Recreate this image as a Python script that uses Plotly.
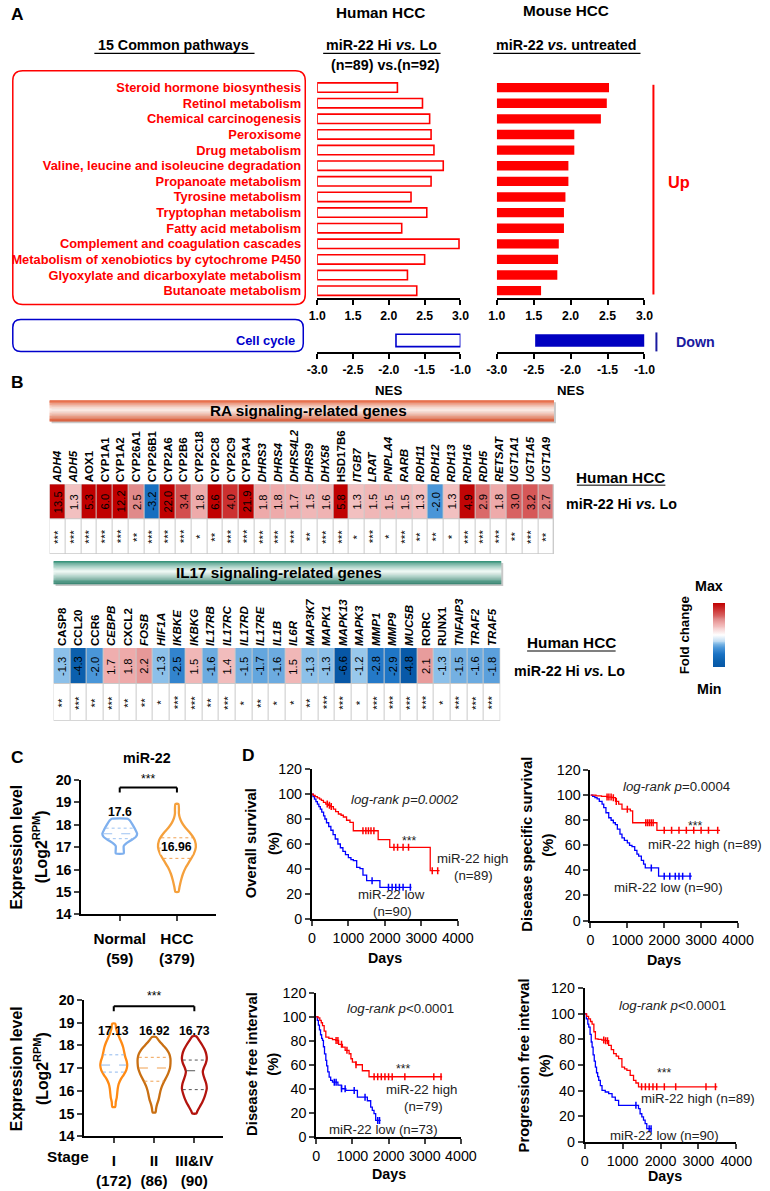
import numpy as np
import plotly.graph_objects as go

W, H = 770, 1191
FONT = "Liberation Sans, Arial, Helvetica, sans-serif"
# placement calibration of the rendered page (offset / scale observed in the photograph)
OX, SX = 9.2, 0.970
OY, SY = 6.1, 0.988
FS = 1.02


def tx(x):
    return (x - OX) / SX


def ty(y):
    return (y - OY) / SY


def PX(x):
    return tx(x) / W


def PY(y):
    return 1 - ty(y) / H


def DX(a, b):
    return [max(0.0, PX(a)), min(1.0, PX(b))]


def DY(top, bottom):
    return [max(0.0, PY(bottom)), min(1.0, PY(top))]


def F(s):
    return s * FS


# ---------------- Panel A: GSEA NES ----------------
pathways = ["Steroid hormone biosynthesis", "Retinol metabolism", "Chemical carcinogenesis",
            "Peroxisome", "Drug metabolism", "Valine, leucine and isoleucine degradation",
            "Propanoate metabolism", "Tyrosine metabolism", "Tryptophan metabolism",
            "Fatty acid metabolism", "Complement and coagulation cascades",
            "Metabolism of xenobiotics by cytochrome P450",
            "Glyoxylate and dicarboxylate metabolism", "Butanoate metabolism"]
human_nes_up = [2.12, 2.47, 2.57, 2.59, 2.63, 2.76, 2.59, 2.31, 2.53, 2.18, 2.98, 2.50, 2.26, 2.39]
mouse_nes_up = [2.52, 2.49, 2.41, 2.05, 2.05, 1.97, 1.97, 1.93, 1.91, 1.91, 1.84, 1.83, 1.82, 1.60]
down_pathways = ["Cell cycle"]
human_nes_down = [-1.90]
mouse_nes_down = [-2.48]
nes_ticks_up = [1.0, 1.5, 2.0, 2.5, 3.0]
nes_ticks_down = [-3.0, -2.5, -2.0, -1.5, -1.0]

# ---------------- Panel B: heatmaps ----------------
ra_genes = ["ADH4", "ADH5", "AOX1", "CYP1A1", "CYP1A2", "CYP26A1", "CYP26B1", "CYP2A6", "CYP2B6",
            "CYP2C18", "CYP2C8", "CYP2C9", "CYP3A4", "DHRS3", "DHRS4", "DHRS4L2", "DHRS9", "DHX58",
            "HSD17B6", "ITGB7", "LRAT", "PNPLA4", "RARB", "RDH11", "RDH12", "RDH13", "RDH16", "RDH5",
            "RETSAT", "UGT1A1", "UGT1A5", "UGT1A9"]
ra_fc = [13.5, 1.3, 5.3, 6.0, 12.2, 2.5, -3.2, 22.0, 3.4, 1.8, 6.6, 4.0, 21.9, 1.8, 1.8, 1.7, 1.5,
         1.6, 5.8, 1.3, 1.5, 1.5, 1.5, 1.3, -2.0, 1.3, 4.9, 2.9, 1.8, 3.0, 3.2, 2.7]
ra_sig = ["***", "***", "***", "***", "***", "**", "***", "***", "***", "*", "**", "***", "***",
          "***", "***", "***", "**", "***", "***", "*", "***", "*", "***", "**", "**", "*", "***",
          "***", "***", "**", "***", "**"]
ra_upright = ["AOX1", "CYP1A1", "CYP1A2", "CYP26A1", "CYP26B1", "CYP2A6", "CYP2B6", "CYP2C18",
              "CYP2C8", "CYP2C9", "CYP3A4", "HSD17B6"]

il17_genes = ["CASP8", "CCL20", "CCR6", "CEBPB", "CXCL2", "FOSB", "HIF1A", "IKBKE", "IKBKG",
              "IL17RB", "IL17RC", "IL17RD", "IL17RE", "IL1B", "IL6R", "MAP3K7", "MAPK1", "MAPK13",
              "MAPK3", "MMP1", "MMP9", "MUC5B", "RORC", "RUNX1", "TNFAIP3", "TRAF2", "TRAF5"]
il17_fc = [-1.3, -4.3, -2.0, 1.7, 1.8, 2.2, -1.3, -2.5, 1.5, -1.6, 1.4, -1.5, -1.7, -1.6, 1.5,
           -1.3, -1.3, -6.6, -1.2, -2.8, -2.9, -4.8, 2.1, -1.3, -1.5, -1.6, -1.8]
il17_sig = ["**", "***", "**", "***", "**", "**", "*", "***", "***", "**", "***", "*", "**", "*",
            "*", "**", "***", "***", "*", "***", "***", "***", "***", "*", "***", "***", "***"]
il17_upright = ["CASP8", "CCL20", "CCR6", "CXCL2", "RORC", "RUNX1"]

FC_SCALE = [[0.0, "#0757a6"], [0.1, "#0c62b0"], [0.2, "#1a72c4"], [0.3, "#4a96d8"],
            [0.35, "#74b0e2"], [0.38, "#98c8ec"], [0.4, "#c0dcf2"], [0.5, "#ffffff"],
            [0.6, "#f6d2d2"], [0.63, "#f2c0c0"], [0.68, "#eeaaaa"], [0.75, "#e08a8a"],
            [0.8, "#d86262"], [0.9, "#cc3030"], [1.0, "#c00000"]]

# ---------------- Panel C: violins ----------------
tissue_labels = ["Normal<br>(59)", "HCC<br>(379)"]
tissue_medians = ["17.6", "16.96"]
normal_levels = [16.72, 16.9, 17.05, 17.15, 17.3, 17.45, 17.6, 17.8, 18.0, 18.2, 18.27]
normal_width = [4, 4, 4, 6, 11, 16, 17.5, 15.5, 13, 10, 8]
normal_quart = [17.38, 17.6, 17.85]
hcc_levels = [15.0, 15.2, 15.5, 15.8, 16.1, 16.4, 16.7, 17.0, 17.3, 17.5, 17.7, 17.9, 18.1, 18.3,
              18.5, 18.7, 18.93]
hcc_width = [1.5, 2.5, 4, 6, 9, 13, 17, 19, 18, 15.5, 12, 8, 5, 3, 2, 2, 1.5]
hcc_quart = [16.5, 16.96, 17.42]

stage_labels = ["I<br>(172)", "II<br>(86)", "III&amp;IV<br>(90)"]
stage_medians = ["17.13", "16.92", "16.73"]
st1_levels = [15.29, 15.5, 15.7, 15.9, 16.1, 16.3, 16.5, 16.7, 16.9, 17.1, 17.3, 17.5, 17.7, 17.9,
              18.1, 18.3, 18.5, 18.7, 18.95]
st1_width = [1.5, 2, 3, 3.5, 4, 5, 7, 10, 12.5, 13.5, 13, 11.5, 10.5, 9.5, 8, 6, 4, 2.5, 1.5]
st1_quart = [16.82, 17.13, 17.58]
st2_levels = [15.05, 15.2, 15.4, 15.6, 15.8, 16.0, 16.2, 16.4, 16.6, 16.8, 17.0, 17.2, 17.4, 17.6,
              17.8, 18.0, 18.2, 18.36]
st2_width = [1.5, 2, 3, 4.5, 5.5, 6.5, 8, 10, 12.5, 14.5, 16, 16.5, 16.5, 15.5, 13, 9, 5, 2]
st2_quart = [16.42, 17.0, 17.47]
st3_levels = [15.0, 15.1, 15.3, 15.5, 15.7, 15.9, 16.1, 16.3, 16.5, 16.7, 16.85, 17.0, 17.2, 17.4,
              17.6, 17.8, 18.0, 18.2, 18.39]
st3_width = [2, 3, 5.5, 8, 10, 11.5, 12.5, 12, 10.5, 9, 8.5, 9.5, 11.5, 12.5, 12, 10.5, 8, 5, 2]
st3_quart = [16.05, 16.88, 17.35]

# ---------------- Panel D: Kaplan-Meier ----------------
os_hi_days = [0, 40, 90, 150, 210, 260, 316, 380, 450, 520, 589, 650, 726, 800, 862, 950, 1044,
              1135, 1817, 2135, 3245, 3500]
os_hi_surv = [100, 99, 98, 97, 96, 95, 93.3, 92, 91, 90, 88, 86, 84, 83, 81.6, 79, 77.3, 70.6,
              63.5, 57.3, 38.6, 38.6]
os_hi_cens = [420, 480, 530, 1400, 1480, 1550, 1620, 1700, 2250, 2350, 2500, 2650, 3300, 3450]
os_lo_days = [0, 30, 70, 110, 150, 190, 230, 270, 320, 356, 400, 460, 520, 580, 640, 712, 780,
              850, 920, 1000, 1070, 1137, 1228, 1318, 1400, 1501, 1865, 2730]
os_lo_surv = [100, 98, 96, 94, 92, 90, 88, 85.5, 82.5, 80, 77, 74, 71, 67.5, 64, 60, 57, 54, 51.5,
              49, 47.5, 46.6, 41.3, 40.3, 35, 30.6, 25.3, 25.3]
os_lo_cens = [1650, 2100, 2200, 2300, 2400, 2500, 2700]

dss_hi_days = [0, 150, 300, 450, 584, 680, 765, 855, 1081, 1144, 1802, 3514]
dss_hi_surv = [100, 99.5, 99, 98.5, 98, 95, 92.8, 88.8, 87.4, 78, 72, 72]
dss_hi_cens = [450, 500, 560, 620, 700, 1000, 1500, 1550, 1600, 1650, 1700, 2000, 2200, 2400,
               2600, 2800, 3000, 3200, 3450]
dss_lo_days = [0, 60, 120, 180, 240, 315, 360, 420, 495, 560, 620, 676, 730, 800, 855, 920, 1000,
               1060, 1126, 1200, 1260, 1306, 1380, 1440, 1486, 1847, 2748]
dss_lo_surv = [100, 99, 98, 97, 95, 92.8, 90, 86, 82, 80, 78, 76.5, 73, 69, 66, 64, 62, 60, 59,
               56, 53, 51.4, 48, 45, 42, 35.4, 35.4]
dss_lo_cens = [1650, 2000, 2150, 2300, 2400, 2500, 2700]

dfi_hi_days = [0, 50, 100, 140, 174, 220, 266, 350, 450, 541, 620, 725, 800, 909, 960, 1001,
               1100, 1276, 1460, 3480]
dfi_hi_surv = [100, 99, 97, 95, 92.7, 88, 83, 82, 81, 80.3, 77, 74.7, 72, 69.2, 65, 62.2, 60, 55,
               50, 50]
dfi_hi_cens = [550, 600, 700, 850, 1100, 1600, 1700, 1800, 1900, 2000, 2100, 2450, 3250, 3450]
dfi_lo_days = [0, 30, 60, 90, 120, 150, 174, 200, 230, 266, 290, 320, 358, 400, 450, 600, 700,
               817, 1139, 1414, 1506, 1550, 1598, 1644, 1781]
dfi_lo_surv = [100, 97, 93, 89, 85, 82, 80.3, 75, 69, 63.6, 59, 54, 49.7, 47, 45.5, 43, 40, 38.6,
               33, 30, 24.7, 22, 19.2, 13.6, 13.6]
dfi_lo_cens = [500, 550, 700, 800, 1050, 1350, 1700, 1750]

pfi_hi_days = [0, 50, 100, 150, 193, 240, 280, 350, 450, 543, 630, 700, 761, 830, 893, 980, 1050,
               1112, 1199, 1287, 1350, 1418, 3500]
pfi_hi_surv = [100, 98, 96, 94, 92, 86, 80.5, 80, 79.5, 79, 75.3, 72, 68.9, 67, 65, 58.4, 57,
               55.9, 52, 48.1, 46, 43, 43]
pfi_hi_cens = [500, 550, 600, 1500, 1600, 1700, 1800, 1900, 2100, 2400, 3200, 3450]
pfi_lo_days = [0, 40, 80, 105, 140, 170, 193, 220, 250, 280, 310, 340, 368, 410, 455, 540, 630,
               720, 806, 893, 1418, 1460, 1506, 1550, 1593, 1637, 1768]
pfi_lo_surv = [100, 96, 92, 89.6, 84, 78, 74, 68, 63, 58.4, 54, 51, 48, 44, 40.3, 39, 37.7, 35,
               32.5, 28.6, 26, 22, 19.5, 17, 14.3, 10.4, 10.4]
pfi_lo_cens = [1350, 1700, 1750]

km_yticks = [0, 20, 40, 60, 80, 100, 120]
km_xticks = [0, 1000, 2000, 3000, 4000]

RED = "#ff0000"
BLUE = "#0000ff"

fig = go.Figure()
annotations = []
shapes = []


def txt(text, x, y, size=12, color="black", xanchor="center", yanchor="middle", angle=0,
        bg=None, xref="paper", yref="paper"):
    if xref == "paper":
        x = PX(x)
    if yref == "paper":
        y = PY(y)
    d = dict(text=text, x=x, y=y, xref=xref, yref=yref, showarrow=False,
             font=dict(size=F(size), color=color, family=FONT), xanchor=xanchor,
             yanchor=yanchor, textangle=angle)
    if bg:
        d["bgcolor"] = bg
        d["borderpad"] = 0
    annotations.append(d)


def hline(x0, x1, y, color="black", width=1.5):
    shapes.append(dict(type="line", xref="paper", yref="paper", x0=PX(x0), x1=PX(x1),
                       y0=PY(y), y1=PY(y), line=dict(color=color, width=width)))


def vline(x, y0, y1, color="black", width=1.5):
    shapes.append(dict(type="line", xref="paper", yref="paper", x0=PX(x), x1=PX(x),
                       y0=PY(y0), y1=PY(y1), line=dict(color=color, width=width)))


def rounded_rect(x0, y0, x1, y1, r, color, width=1.5):
    pts = [("M", [(x0 + r, y0)]), ("L", [(x1 - r, y0)]), ("Q", [(x1, y0), (x1, y0 + r)]),
           ("L", [(x1, y1 - r)]), ("Q", [(x1, y1), (x1 - r, y1)]), ("L", [(x0 + r, y1)]),
           ("Q", [(x0, y1), (x0, y1 - r)]), ("L", [(x0, y0 + r)]), ("Q", [(x0, y0), (x0 + r, y0)])]
    path = ""
    for cmd, ps in pts:
        path += cmd + " " + " ".join("%.5f,%.5f" % (PX(a), PY(b)) for a, b in ps) + " "
    path += "Z"
    shapes.append(dict(type="path", xref="paper", yref="paper", path=path,
                       line=dict(color=color, width=width)))


def mix(c1, c2, f):
    a = [int(c1[i:i + 2], 16) for i in (1, 3, 5)]
    b = [int(c2[i:i + 2], 16) for i in (1, 3, 5)]
    return "rgb(%d,%d,%d)" % tuple(round(a[k] + (b[k] - a[k]) * f) for k in range(3))


def banner(x0, x1, y0, y1, edge_top, edge_bot, mid, n=28):
    shapes.append(dict(type="rect", xref="paper", yref="paper", x0=PX(x0 + 2), x1=PX(x1 + 2),
                       y0=PY(y1 + 2), y1=PY(y0 + 2), fillcolor="#c8c8c8", line=dict(width=0)))
    for i in range(n):
        p = (i + 0.5) / n
        if p < 0.45:
            f = ((0.45 - p) / 0.45) ** 1.3
            col = mix(mid, edge_top, f)
        else:
            f = ((p - 0.45) / 0.55) ** 1.3
            col = mix(mid, edge_bot, f)
        ya = y0 + (y1 - y0) * i / n
        yb = y0 + (y1 - y0) * (i + 1) / n + 0.3
        shapes.append(dict(type="rect", xref="paper", yref="paper", x0=PX(x0), x1=PX(x1),
                           y0=PY(yb), y1=PY(ya), fillcolor=col, line=dict(width=0)))


# ======================= PANEL A =======================
bar_axis = dict(showline=True, linecolor="black", linewidth=2, ticks="outside", ticklen=5,
                tickwidth=2, tickcolor="black", showgrid=False, zeroline=False,
                tickfont=dict(size=F(12), family=FONT, color="black"), fixedrange=True)

fig.add_trace(go.Bar(y=pathways, x=[v - 1 for v in human_nes_up], base=1, orientation="h",
                     width=0.6, marker=dict(color="white", line=dict(color=RED, width=1.6)),
                     xaxis="x", yaxis="y", hoverinfo="skip"))
fig.add_trace(go.Bar(y=pathways, x=[v - 1 for v in mouse_nes_up], base=1, orientation="h",
                     width=0.6, marker=dict(color=RED, line=dict(color=RED, width=0)),
                     xaxis="x2", yaxis="y2", hoverinfo="skip"))
fig.add_trace(go.Bar(y=down_pathways, x=[v + 1 for v in human_nes_down], base=-1,
                     orientation="h", width=0.52,
                     marker=dict(color="white", line=dict(color="#0000cc", width=1.6)),
                     xaxis="x3", yaxis="y3", hoverinfo="skip"))
fig.add_trace(go.Bar(y=down_pathways, x=[v + 1 for v in mouse_nes_down], base=-1,
                     orientation="h", width=0.52, marker=dict(color="#0000c0", line=dict(width=0)),
                     xaxis="x4", yaxis="y4", hoverinfo="skip"))

up_lbl = ["%.1f" % v for v in nes_ticks_up]
dn_lbl = ["%.1f" % v for v in nes_ticks_down]
layout_axes = {}
layout_axes["xaxis"] = dict(bar_axis, domain=DX(317, 461), range=[1, 3], tickvals=nes_ticks_up,
                            ticktext=["<b>%s</b>" % t for t in up_lbl], anchor="y")
layout_axes["yaxis"] = dict(domain=DY(78, 297), range=[13.5, -0.5], anchor="x", showline=False,
                            ticks="", showgrid=False, zeroline=False, ticklabelstandoff=15,
                            tickvals=pathways, ticktext=["<b>%s</b>" % p for p in pathways],
                            tickfont=dict(size=F(12.6), family=FONT, color=RED), fixedrange=True)
layout_axes["xaxis2"] = dict(bar_axis, domain=DX(497.5, 646), range=[1, 3], tickvals=nes_ticks_up,
                             ticktext=["<b>%s</b>" % t for t in up_lbl], anchor="y2")
layout_axes["yaxis2"] = dict(domain=DY(78, 297), range=[13.5, -0.5], anchor="x2", visible=False,
                             tickvals=pathways, fixedrange=True)
layout_axes["xaxis3"] = dict(bar_axis, domain=DX(317, 461), range=[-3, -1], tickvals=nes_ticks_down,
                             ticktext=["<b>%s</b>" % t for t in dn_lbl], anchor="y3")
layout_axes["yaxis3"] = dict(domain=DY(327, 351), range=[-0.5, 0.5], anchor="x3", showline=False,
                             ticks="", showgrid=False, zeroline=False, ticklabelstandoff=21,
                             tickvals=down_pathways,
                             ticktext=["<b>%s</b>" % p for p in down_pathways],
                             tickfont=dict(size=F(12.6), family=FONT, color="#0000cc"),
                             fixedrange=True)
layout_axes["xaxis4"] = dict(bar_axis, domain=DX(497.5, 646), range=[-3, -1],
                             tickvals=nes_ticks_down,
                             ticktext=["<b>%s</b>" % t for t in dn_lbl], anchor="y4")
layout_axes["yaxis4"] = dict(domain=DY(327, 351), range=[-0.5, 0.5], anchor="x4", visible=False,
                             tickvals=down_pathways, fixedrange=True)

txt("<b>A</b>", 16, 12, size=17)
txt("<b>Human HCC</b>", 381, 11, size=15)
txt("<b>Mouse HCC</b>", 567, 9, size=15)
txt("<b>15 Common pathways</b>", 173, 43, size=14)
hline(93, 254, 51.5, width=1.2)
txt("<b>miR-22 Hi <i>vs.</i> Lo</b>", 382, 43, size=14)
hline(323, 441, 51.5, width=1.2)
txt("<b>(n=89) vs.(n=92)</b>", 386, 63, size=14)
txt("<b>miR-22 <i>vs.</i> untreated</b>", 567, 43, size=14)
hline(494, 642, 51.5, width=1.2)
rounded_rect(11, 69, 305, 303, 10, RED, width=1.5)
rounded_rect(11, 318, 303, 350, 8, "#0000cc", width=1.5)
vline(655, 83, 293, color=RED, width=2)
txt("<b>Up</b>", 681, 180, size=16, color=RED)
vline(658, 331, 350, color="#1a1aa0", width=2)
txt("<b>Down</b>", 697, 341, size=14, color="#1a1aa0")
txt("<b>NES</b>", 389, 389, size=13)
txt("<b>NES</b>", 572, 389, size=13)

# ======================= PANEL B =======================
txt("<b>B</b>", 16, 381, size=17)
banner(48, 555, 399, 420, "#e2572f", "#d84a22", "#fdeee8")
txt("<b>RA signaling-related genes</b>", 308, 409.5, size=15)
banner(52, 502, 560, 583, "#2f8f76", "#1f7a62", "#eef8f4")
txt("<b>IL17 signaling-related genes</b>", 279, 571.5, size=15)


def clipfc(v):
    return max(-5.0, min(5.0, v))


def gene_label(g, upright):
    return "<b>%s</b>" % g if g in upright else "<b><i>%s</i></b>" % g


def add_heatmap(genes, fc, sig, upright, xa, ya, xdom, ydom, showscale):
    z = [[0.0] * len(genes), [clipfc(v) for v in fc]]
    hm = go.Heatmap(x=genes, y=[0, 1], z=z, colorscale=FC_SCALE, zmin=-5, zmax=5, xgap=1, ygap=1,
                    showscale=showscale, xaxis=xa, yaxis=ya, hoverinfo="skip")
    if showscale:
        hm.colorbar = dict(x=PX(705), xanchor="left", y=PY(634), yanchor="middle",
                           len=(84 / SY) / H, lenmode="fraction", thickness=12 / SX,
                           showticklabels=False, ticks="", outlinewidth=0)
    fig.add_trace(hm)
    shapes.append(dict(type="rect", xref="paper", yref="paper", x0=PX(xdom[0]), x1=PX(xdom[1]),
                       y0=PY(ydom[1]), y1=PY(ydom[0]), fillcolor="#c9c9c9",
                       line=dict(width=0), layer="below"))
    n = xa[1:]
    layout_axes["xaxis" + n] = dict(domain=DX(*xdom), side="top", anchor=ya, tickangle=-90,
                                    tickvals=genes,
                                    ticktext=[gene_label(g, upright) for g in genes],
                                    tickfont=dict(size=F(11.3), family=FONT, color="black"),
                                    ticks="", showgrid=False, zeroline=False, showline=False,
                                    ticklabelstandoff=1, range=[-0.5, len(genes) - 0.5],
                                    fixedrange=True)
    layout_axes["yaxis" + n] = dict(domain=DY(*ydom), range=[-0.5, 1.5], anchor=xa, visible=False,
                                    fixedrange=True)
    for g, v, s in zip(genes, fc, sig):
        txt("%.1f" % v, g, 1, size=11, angle=-90, xref=xa, yref=ya)
        txt(s, g, 0, size=11.5, angle=-90, xref=xa, yref=ya)


add_heatmap(ra_genes, ra_fc, ra_sig, ra_upright, "x5", "y5", (48, 555), (483, 553), False)
add_heatmap(il17_genes, il17_fc, il17_sig, il17_upright, "x6", "y6", (52, 501), (647, 720), True)

txt("<b>Human HCC</b>", 622, 476, size=15)
hline(578, 667, 484, color="#555", width=1.5)
txt("<b>miR-22 Hi <i>vs.</i> Lo</b>", 623, 503, size=14)
txt("<b>Human HCC</b>", 573, 642, size=15)
hline(528, 617, 650, color="#555", width=1.5)
txt("<b>miR-22 Hi <i>vs.</i> Lo</b>", 571, 670, size=14)
txt("<b>Max</b>", 711, 585, size=14)
txt("<b>Min</b>", 711, 688, size=14)
txt("<b>Fold change</b>", 687, 634, size=13, angle=-90)

# ======================= PANEL C =======================
txt("<b>C</b>", 16, 756, size=17)
txt("<b>miR-22</b>", 146, 757, size=14)


def violin(center, levels, widths, scale, color, xa, ya, quart, qcolor):
    lv = np.array(levels, dtype=float)
    w = np.array(widths, dtype=float) / scale
    xs = np.concatenate([center + w, (center - w)[::-1], [center + w[0]]])
    ys = np.concatenate([lv, lv[::-1], [lv[0]]])
    fig.add_trace(go.Scatter(x=xs, y=ys, mode="lines", fill="toself", fillcolor="white",
                             line=dict(color=color, width=2.3, shape="spline", smoothing=0.6),
                             xaxis=xa, yaxis=ya, hoverinfo="skip"))
    for k, q in enumerate(quart):
        hw = np.interp(q, lv, w) * 0.95
        fig.add_trace(go.Scatter(x=[center - hw, center + hw], y=[q, q], mode="lines",
                                 line=dict(color=qcolor, width=1,
                                           dash="dash" if k == 1 else "dot"),
                                 xaxis=xa, yaxis=ya, hoverinfo="skip"))


vio_y = dict(range=[14, 20], dtick=1, showline=True, linecolor="black", linewidth=2,
             ticks="outside", ticklen=5, tickwidth=2, showgrid=False, zeroline=False,
             tickfont=dict(size=F(14), family=FONT, color="black"), tickprefix="<b>",
             ticksuffix="</b>", fixedrange=True)
vio_x = dict(showline=True, linecolor="black", linewidth=2, ticks="outside", ticklen=5,
             tickwidth=2, showgrid=False, zeroline=False,
             tickfont=dict(size=F(15), family=FONT, color="black"), fixedrange=True,
             ticklabelstandoff=4)

violin(0, normal_levels, normal_width, 57.5, "#7fb0ee", "x7", "y7", normal_quart, "#9cc2f2")
violin(1, hcc_levels, hcc_width, 57.5, "#f5a03c", "x7", "y7", hcc_quart, "#f0a050")
layout_axes["xaxis7"] = dict(vio_x, domain=DX(80, 215), range=[(80 - 118.5) / 57.5,
                                                              (215 - 118.5) / 57.5],
                             tickvals=[0, 1], ticktext=["<b>%s</b>" % t for t in tissue_labels],
                             anchor="y7")
layout_axes["yaxis7"] = dict(vio_y, domain=DY(779.3, 913.7), anchor="x7")
txt("<b>%s</b>" % tissue_medians[0], 0, 18.57, size=12, xref="x7", yref="y7")
txt("<b>%s</b>" % tissue_medians[1], 1, 17.0, size=12, xref="x7", yref="y7",
    bg="rgba(255,255,255,0.9)")
shapes.append(dict(type="line", xref="x7", yref="y7", x0=0, x1=1, y0=19.67, y1=19.67,
                   line=dict(color="black", width=2)))
for xx in (0, 1):
    shapes.append(dict(type="line", xref="x7", yref="y7", x0=xx, x1=xx, y0=19.67, y1=19.45,
                       line=dict(color="black", width=2)))
txt("***", 147, 778, size=12)
txt("<b>Expression level</b>", 15, 846, size=15.5, angle=-90)
txt("<b>(Log2<sup>RPM</sup>)</b>", 38, 846, size=15.5, angle=-90)

violin(0, st1_levels, st1_width, 40.5, "#ff8a14", "x8", "y8", st1_quart, "#8fb8ee")
violin(1, st2_levels, st2_width, 40.5, "#c96f12", "x8", "y8", st2_quart, "#f0a050")
violin(2, st3_levels, st3_width, 40.5, "#b3140e", "x8", "y8", st3_quart, "#555555")
layout_axes["xaxis8"] = dict(vio_x, domain=DX(83, 222), range=[(83 - 112.5) / 40.5,
                                                              (222 - 112.5) / 40.5],
                             tickvals=[0, 1, 2], ticktext=["<b>%s</b>" % t for t in stage_labels],
                             anchor="y8")
layout_axes["yaxis8"] = dict(vio_y, domain=DY(999.3, 1136), anchor="x8")
for i, m in enumerate(stage_medians):
    txt("<b>%s</b>" % m, i, 18.62, size=12, xref="x8", yref="y8")
shapes.append(dict(type="line", xref="x8", yref="y8", x0=0, x1=2, y0=19.72, y1=19.72,
                   line=dict(color="black", width=2)))
for xx in (0, 2):
    shapes.append(dict(type="line", xref="x8", yref="y8", x0=xx, x1=xx, y0=19.72, y1=19.5,
                       line=dict(color="black", width=2)))
txt("***", 153, 996, size=12)
txt("<b>Stage</b>", 67, 1156, size=15)
txt("<b>Expression level</b>", 15, 1068, size=15.5, angle=-90)
txt("<b>(Log2<sup>RPM</sup>)</b>", 40, 1068, size=15.5, angle=-90)

# ======================= PANEL D =======================
txt("<b>D</b>", 248, 754, size=17)


def km(days, surv, cens, color, xa, ya):
    fig.add_trace(go.Scatter(x=days, y=surv, mode="lines",
                             line=dict(color=color, width=1.3, shape="hv"),
                             xaxis=xa, yaxis=ya, hoverinfo="skip"))
    d = np.array(days)
    s = np.array(surv)
    cs = [s[np.searchsorted(d, c, side="right") - 1] for c in cens]
    fig.add_trace(go.Scatter(x=cens, y=cs, mode="markers",
                             marker=dict(symbol="line-ns", size=5,
                                         line=dict(color=color, width=1.5)),
                             xaxis=xa, yaxis=ya, hoverinfo="skip"))


km_axis_x = dict(range=[0, 4000], tickvals=km_xticks, showline=True, linecolor="black",
                 linewidth=2, ticks="outside", ticklen=5, tickwidth=2, showgrid=False,
                 zeroline=False, tickfont=dict(size=F(14), family=FONT, color="black"),
                 tickprefix="<b>", ticksuffix="</b>", fixedrange=True)
km_axis_y = dict(range=[0, 120], tickvals=km_yticks, showline=True, linecolor="black",
                 linewidth=2, ticks="outside", ticklen=5, tickwidth=2, showgrid=False,
                 zeroline=False, tickfont=dict(size=F(14), family=FONT, color="black"),
                 tickprefix="<b>", ticksuffix="</b>", fixedrange=True)

km_panels = [
    ("9", (311.7, 458.3), (768.3, 918.3), os_hi_days, os_hi_surv, os_hi_cens,
     os_lo_days, os_lo_surv, os_lo_cens),
    ("10", (591.7, 740), (769.3, 920), dss_hi_days, dss_hi_surv, dss_hi_cens,
     dss_lo_days, dss_lo_surv, dss_lo_cens),
    ("11", (316, 461.5), (992.3, 1136.5), dfi_hi_days, dfi_hi_surv, dfi_hi_cens,
     dfi_lo_days, dfi_lo_surv, dfi_lo_cens),
    ("12", (586, 738.3), (987.7, 1141.7), pfi_hi_days, pfi_hi_surv, pfi_hi_cens,
     pfi_lo_days, pfi_lo_surv, pfi_lo_cens),
]
for n, xd, yd, hd, hs, hc, ld, ls, lc in km_panels:
    km(ld, ls, lc, BLUE, "x" + n, "y" + n)
    km(hd, hs, hc, RED, "x" + n, "y" + n)
    layout_axes["xaxis" + n] = dict(km_axis_x, domain=DX(*xd), anchor="y" + n)
    layout_axes["yaxis" + n] = dict(km_axis_y, domain=DY(*yd), anchor="x" + n)

TXTC = "#222222"
# OS
txt("<b>Days</b>", 385, 957, size=14)
txt("<b>Overall survival</b>", 250, 843, size=14.5, angle=-90)
txt("<b>(%)</b>", 273, 843, size=14.5, angle=-90)
txt("<i>log-rank p=0.0002</i>", 405, 799, size=13, color=TXTC)
txt("***", 410, 840, size=12, color=TXTC)
txt("miR-22 high", 435, 858, size=13, color=TXTC, xanchor="left")
txt("(n=89)", 453, 875, size=13, color=TXTC, xanchor="left")
txt("miR-22 low", 392, 894, size=13, color=TXTC)
txt("(n=90)", 393, 911, size=13, color=TXTC)
# DSS
txt("<b>Days</b>", 666, 959, size=14)
txt("<b>Disease specific survival</b>", 528, 844, size=14.5, angle=-90)
txt("<b>(%)</b>", 549, 844, size=14.5, angle=-90)
txt("<i>log-rank p</i>=0.0004", 678, 786, size=13, color=TXTC)
txt("***", 697, 825, size=12, color=TXTC)
txt("miR-22 high (n=89)", 707, 844, size=13, color=TXTC)
txt("miR-22 low (n=90)", 670, 887, size=13, color=TXTC)
# DFI
txt("<b>Days</b>", 389, 1174, size=14)
txt("<b>Disease free interval</b>", 252, 1064, size=14.5, angle=-90)
txt("<b>(%)</b>", 273, 1064, size=14.5, angle=-90)
txt("<i>log-rank p</i>&lt;0.0001", 401, 1008, size=13, color=TXTC)
txt("***", 404, 1069, size=12, color=TXTC)
txt("miR-22 high", 422, 1089, size=13, color=TXTC)
txt("(n=79)", 424, 1106, size=13, color=TXTC)
txt("miR-22 low (n=73)", 384, 1129, size=13, color=TXTC)
# PFI
txt("<b>Days</b>", 667, 1176, size=14)
txt("<b>Progression free interval</b>", 525, 1065, size=14.5, angle=-90)
txt("<b>(%)</b>", 546, 1065, size=14.5, angle=-90)
txt("<i>log-rank p</i>&lt;0.0001", 674, 1005, size=13, color=TXTC)
txt("***", 666, 1073, size=12, color=TXTC)
txt("miR-22 high (n=89)", 700, 1098, size=13, color=TXTC)
txt("miR-22 low (n=90)", 666, 1135, size=13, color=TXTC)

fig.update_layout(width=W, height=H, margin=dict(l=0, r=0, t=0, b=0), paper_bgcolor="white",
                  plot_bgcolor="rgba(0,0,0,0)", showlegend=False, hovermode=False,
                  font=dict(family=FONT, color="black"), annotations=annotations, shapes=shapes,
                  barmode="overlay", **layout_axes)

fig.write_html("out.html", config={"displayModeBar": False, "staticPlot": True},
               post_script="document.body.style.margin='0px'; document.body.style.overflow='hidden';")
